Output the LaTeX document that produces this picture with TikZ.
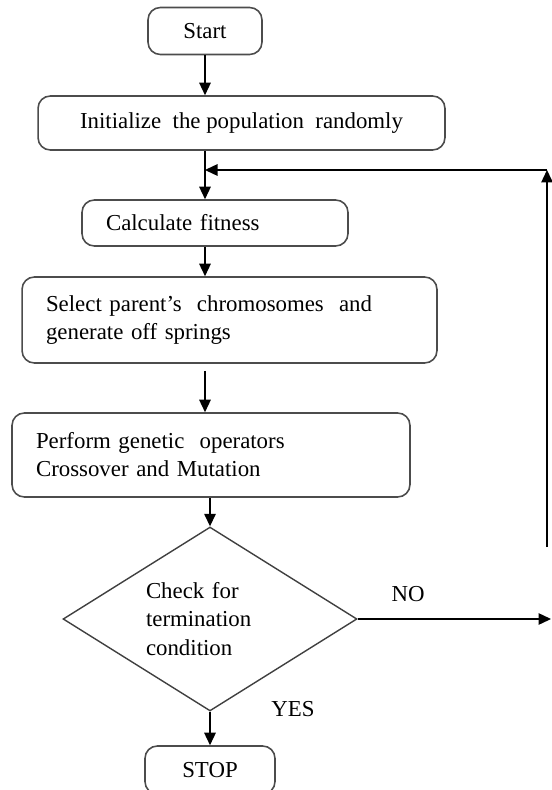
\documentclass[tikz,border=0pt]{standalone}
\usepackage{fontspec}
\setmainfont{Liberation Serif}
\usetikzlibrary{arrows.meta, shapes.geometric}

\begin{document}
\begin{tikzpicture}[
  x=0.02cm, y=-0.02cm,
  font=\fontsize{13}{16}\selectfont,
  etape/.style={
    draw=black!70,
    line width=0.9pt,
    rounded corners=7pt,
    align=center,
    inner sep=0pt
  },
  etapegauche/.style={
    etape,
    align=left,
    inner xsep=0.48cm,
    text width=#1
  },
  decision/.style={
    diamond,
    draw=black!75,
    line width=0.8pt,
    aspect=1.6,
    inner sep=0pt,
    minimum width=5.88cm,
    minimum height=3.68cm,
    align=left,
    text width=2.56cm
  },
  fleche/.style={
    -{Triangle[length=2.5mm, width=2.3mm]},
    line width=0.8pt,
    draw=black
  },
  reponse/.style={inner sep=0pt}
]
  \useasboundingbox (0,0) rectangle (551,790);

  \node[etape, minimum width=2.28cm, minimum height=0.94cm] (start) at (205,31) {Start};
  \node[etape, minimum width=8.14cm, minimum height=1.08cm] (init) at (241.5,123) {Initialize\ \ the population\ \ randomly};
  \node[etapegauche=4.36cm, minimum height=0.92cm] (calc) at (215,223) {Calculate fitness};
  \node[etapegauche=7.34cm, minimum height=1.72cm] (select) at (229.5,320) {Select parent’s\ \ chromosomes\ \ and\\generate off springs};
  \node[etapegauche=7.0cm, minimum height=1.68cm] (perform) at (211,455) {Perform genetic\ \ operators\\Crossover and Mutation};
  \node[decision] (check) at (210,619) {Check for\\termination\\condition};
  \node[etape, minimum width=2.6cm, minimum height=0.96cm] (stop) at (210,770) {STOP};

  \coordinate (coin) at (547,170);
  \coordinate (retour) at (547,547);
  \coordinate (sortie) at (551,619);

  \draw[fleche] (start.south) -- (start.south |- init.north);
  \draw[fleche] (start.south |- init.south) -- (start.south |- calc.north);
  \draw[fleche] (start.south |- calc.south) -- (start.south |- select.north);
  \draw[fleche, shorten <=0.14cm] (start.south |- select.south) -- (start.south |- perform.north);
  \draw[fleche] (check.north |- perform.south) -- (check.north);
  \draw[fleche] (check.south) -- (stop.north);
  \draw[fleche] (check.east) -- (sortie);
  \draw[fleche] (retour) -- (coin);
  \draw[fleche] (coin) -- (coin -| start.south);

  \node[reponse] (non) at (408,594) {NO};
  \node[reponse] (oui) at (293,709) {YES};
\end{tikzpicture}
\end{document}
